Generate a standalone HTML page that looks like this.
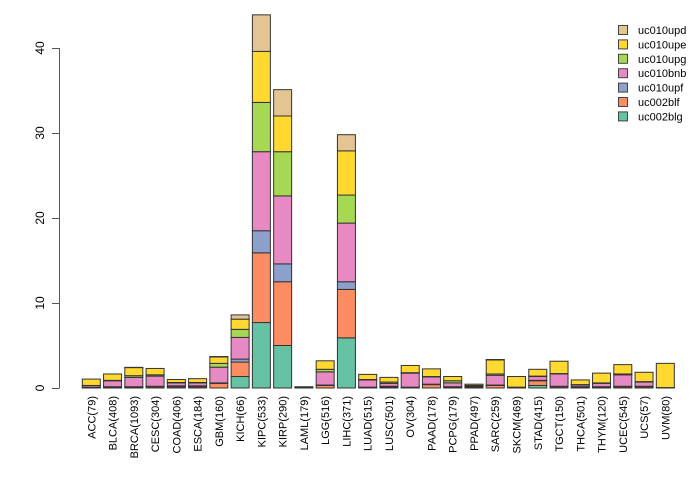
<!DOCTYPE html>
<html><head><meta charset="utf-8"><style>
html,body{margin:0;padding:0;background:#fff;}
svg{display:block;font-family:"Liberation Sans",Arial,sans-serif;}
</style></head><body>
<svg id="chart" width="700" height="480"></svg>
<script>
const categories=["ACC(79)","BLCA(408)","BRCA(1093)","CESC(304)","COAD(406)","ESCA(184)","GBM(160)","KICH(66)","KIPC(533)","KIRP(290)","LAML(179)","LGG(516)","LIHC(371)","LUAD(515)","LUSC(501)","OV(304)","PAAD(178)","PCPG(179)","PPAD(497)","SARC(259)","SKCM(469)","STAD(415)","TGCT(150)","THCA(501)","THYM(120)","UCEC(545)","UCS(57)","UVM(80)"];
const seriesNames=["uc002blg","uc002blf","uc010upf","uc010bnb","uc010upg","uc010upe","uc010upd"];
const seriesColors=["#66c2a5","#fc8d62","#8da0cb","#e78ac3","#a6d854","#ffd92f","#e5c494"];
const uc002blg=[0,0,0,0,0,0,0,1.35,7.7,5.0,0,0,5.9,0,0,0,0,0,0,0,0,0.3,0,0,0,0,0,0];
const uc002blf=[0.05,0.05,0.05,0.15,0.15,0.15,0.55,1.7,8.2,7.5,0.05,0.3,5.7,0.05,0.1,0.05,0.4,0.1,0.1,0.3,0.05,0.55,0.15,0.1,0.1,0.15,0.15,0.05];
const uc010upf=[0.05,0.1,0.1,0.05,0.1,0.1,0.05,0.35,2.6,2.1,0,0.05,0.9,0.05,0.1,0.05,0.05,0.05,0.1,0.05,0,0.05,0.05,0.05,0.05,0.05,0.05,0];
const uc010bnb=[0.2,0.7,1.1,1.2,0.35,0.35,1.85,2.55,9.3,8.0,0.1,1.55,6.9,0.85,0.35,1.65,0.85,0.45,0.05,1.15,0.05,0.45,1.45,0.2,0.4,1.35,0.5,0];
const uc010upg=[0,0.05,0.2,0.15,0.05,0.05,0.45,0.95,5.8,5.2,0,0.3,3.3,0.05,0.15,0.05,0.05,0.25,0.05,0.15,0,0.05,0.05,0.05,0.05,0.1,0.05,0];
const uc010upe=[0.75,0.75,0.95,0.75,0.35,0.45,0.75,1.2,6.0,4.2,0,1.0,5.2,0.6,0.55,0.85,0.9,0.5,0.15,1.65,1.25,0.8,1.45,0.55,1.15,1.1,1.1,2.85];
const uc010upd=[0,0,0.03,0,0,0,0.05,0.5,4.3,3.1,0,0,1.9,0,0,0,0,0,0,0.05,0,0,0,0,0,0,0,0];
const seriesValues=[uc002blg,uc002blf,uc010upf,uc010bnb,uc010upg,uc010upe,uc010upd];
const yTicks=[0,10,20,30,40];

const NS="http://www.w3.org/2000/svg";
const svg=document.getElementById('chart');
function mk(t,a,p){const e=document.createElementNS(NS,t);for(const k in a)e.setAttribute(k,a[k]);(p||svg).appendChild(e);return e;}
const y0=388, ppu=8.5;
const yS=v=>y0-v*ppu;
const x0=91.3, step=21.26, bw=18;
const xS=i=>x0+i*step;

const yAxis=mk('g',{});


mk('line',{x1:59.5,x2:59.5,y1:yS(0),y2:yS(40),stroke:'#555','stroke-width':1},yAxis);
yTicks.forEach(t=>{
  mk('line',{x1:52,x2:59.5,y1:Math.round(yS(t))+0.5,y2:Math.round(yS(t))+0.5,stroke:'#555','stroke-width':1},yAxis);
  const tx=mk('text',{x:0,y:0,transform:`translate(${44},${yS(t)}) rotate(-90)`,'text-anchor':'middle','font-size':12,fill:'#000'},yAxis);
  tx.textContent=t;
  
  
});

categories.forEach((c,i)=>{
  const g=mk('g',{});
  
  
  let cum=0;
  seriesValues.forEach((arr,s)=>{
    const v=arr[i]; if(v<=0)return;
    const r=mk('rect',{x:xS(i)-bw/2,y:yS(cum+v),width:bw,height:v*ppu,fill:seriesColors[s],stroke:'#333','stroke-width':1},g);
    
    
    cum+=v;
  });
  const tx=mk('text',{x:0,y:0,transform:`translate(${xS(i)+4},${396}) rotate(-90)`,'text-anchor':'end','font-size':11,fill:'#000'});
  tx.textContent=c;
  
  
});

const leg=mk('g',{});


for(let k=seriesNames.length-1,j=0;k>=0;k--,j++){
  const ey=30+j*14.4;
  const e=mk('g',{},leg);
  
  
  mk('rect',{x:618.5,y:ey-4.5,width:9,height:9,fill:seriesColors[k],stroke:'#444','stroke-width':1},e);
  const t=mk('text',{x:638,y:ey+4,'font-size':11,fill:'#000'},e);
  t.textContent=seriesNames[k];
}
</script>
</body></html>
